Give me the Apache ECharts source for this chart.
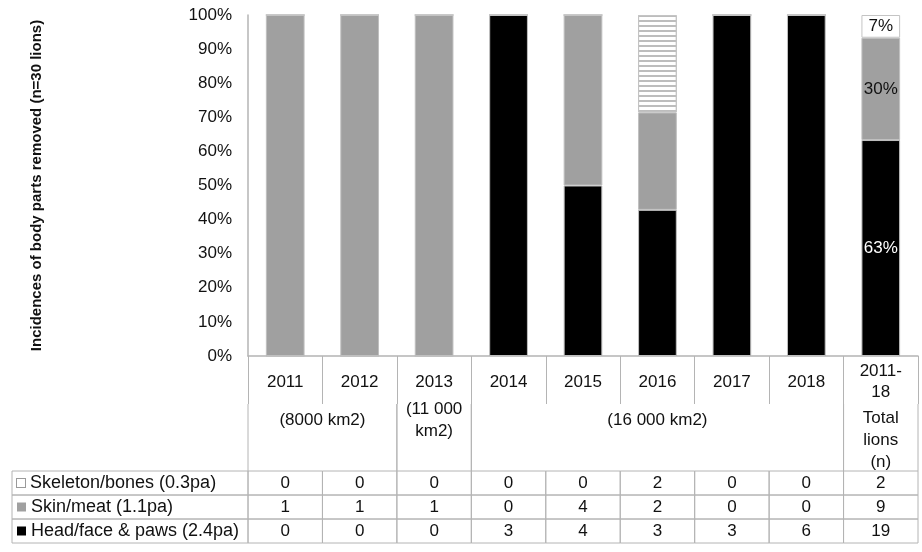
<!DOCTYPE html>
<html><head><meta charset="utf-8">
<script src="https://cdn.jsdelivr.net/npm/echarts@6/dist/echarts.min.js"></script>
<style>html,body{margin:0;padding:0;background:#fff}#c{width:922px;height:552px}</style>
</head><body><div id="c"></div>
<script>
// ---- data ----
const categories = ['2011', '2012', '2013', '2014', '2015', '2016', '2017', '2018', '2011-\n18'];
const rowNames = ['Skeleton/bones (0.3pa)', 'Skin/meat (1.1pa)', 'Head/face & paws (2.4pa)'];
const skeleton = [0, 0, 0, 0, 0, 2, 0, 0, 2];
const skin     = [1, 1, 1, 0, 4, 2, 0, 0, 9];
const head     = [0, 0, 0, 3, 4, 3, 3, 6, 19];
const areaLabels = ['(8000 km2)', '(11 000\nkm2)', '(16 000 km2)', 'Total\nlions\n(n)'];
const areaFrom   = [0, 2, 3, 8];
const areaTo     = [1, 2, 7, 8];
const yTickStep = 10;
const yMax = 100;
const yTitle = 'Incidences of body parts removed (n=30 lions)';

// ---- derived ----
const totals = categories.map((_, i) => skeleton[i] + skin[i] + head[i]);
const pct = arr => arr.map((v, i) => v / totals[i] * 100);
const last = categories.length - 1;
const rowCounts = [skeleton, skin, head];

const FONT = 'Liberation Sans, Arial, sans-serif';
const LINE = '#b4b4b4';
const GRID_L = 248, GRID_R = 4;
const TABLE_L = 12;

const labelFmt = p => p.dataIndex === last ? Math.round(p.value) + '%' : '';
const stripe = { symbol: 'rect', symbolSize: 1, color: '#bdbdbd', dashArrayX: [1, 0], dashArrayY: [2, 3], rotation: 0 };

const cellData = [];
rowCounts.forEach((arr, r) => arr.forEach((v, c) => cellData.push([c, r, v])));

const option = {
  animation: false,
  textStyle: { fontFamily: FONT },
  grid: [
    { left: GRID_L, right: GRID_R, top: 15, height: 341 },
    { left: GRID_L, right: GRID_R, top: 404, height: 67 },
    { left: GRID_L, right: GRID_R, top: 471, height: 72 }
  ],
  xAxis: [
    { type: 'category', gridIndex: 0, data: categories,
      axisLine: { lineStyle: { color: LINE, width: 1.5 } },
      axisTick: { show: true, interval: 0, length: 48, lineStyle: { color: LINE } },
      axisLabel: { interval: 0, fontSize: 17, color: '#111', margin: 26, verticalAlign: 'middle', lineHeight: 21, fontFamily: FONT } },
    { type: 'category', gridIndex: 1, data: categories, show: false },
    { type: 'category', gridIndex: 2, data: categories, show: false }
  ],
  yAxis: [
    { type: 'value', gridIndex: 0, min: 0, max: yMax, interval: yTickStep,
      name: yTitle, nameLocation: 'middle', nameGap: 204,
      nameTextStyle: { fontSize: 15, fontWeight: 'bold', color: '#111', fontFamily: FONT },
      axisLine: { show: true, lineStyle: { color: LINE, width: 1.5 } },
      axisTick: { show: false }, splitLine: { show: false },
      axisLabel: { formatter: '{value}%', fontSize: 17, color: '#111', margin: 16, fontFamily: FONT } },
    { type: 'category', gridIndex: 1, data: ['area'], show: false },
    { type: 'category', gridIndex: 2, data: rowNames, inverse: true,
      axisLine: { show: false }, axisTick: { show: false }, splitLine: { show: false },
      axisLabel: { align: 'left', margin: GRID_L - TABLE_L - 5, fontSize: 18, color: '#111', fontFamily: FONT,
        formatter: (v, i) => '{m' + i + '|}{t|' + v + '}',
        rich: {
          m0: { width: 8, height: 8, backgroundColor: '#fff', borderColor: '#9a9a9a', borderWidth: 1 },
          m1: { width: 9, height: 9, backgroundColor: '#a0a0a0' },
          m2: { width: 9, height: 9, backgroundColor: '#000' },
          t: { fontSize: 18, color: '#111', padding: [0, 0, 0, 5], fontFamily: FONT }
        } } }
  ],
  series: [
    { name: rowNames[2], type: 'bar', stack: 'a', barWidth: '52%', data: pct(head),
      itemStyle: { color: '#000', borderColor: '#bfbfbf', borderWidth: 1 },
      label: { show: true, formatter: labelFmt, color: '#fff', fontSize: 17, fontFamily: FONT } },
    { name: rowNames[1], type: 'bar', stack: 'a', barWidth: '52%', data: pct(skin),
      itemStyle: { color: '#a0a0a0', borderColor: '#bfbfbf', borderWidth: 1 },
      label: { show: true, formatter: labelFmt, color: '#111', fontSize: 17, fontFamily: FONT } },
    { name: rowNames[0], type: 'bar', stack: 'a', barWidth: '52%',
      data: pct(skeleton).map((v, i) => i === last ? v : { value: v, itemStyle: { decal: stripe } }),
      itemStyle: { color: '#fff', borderColor: '#c4c4c4', borderWidth: 1 },
      label: { show: true, formatter: labelFmt, color: '#111', fontSize: 17, fontFamily: FONT } },
    { type: 'custom', xAxisIndex: 1, yAxisIndex: 1, silent: true,
      data: areaLabels.map((_, k) => [areaFrom[k], areaTo[k]]),
      renderItem: (params, api) => {
        const k = params.dataIndex;
        const cs = params.coordSys;
        const w = api.size([1, 0])[0];
        const x0 = api.coord([api.value(0), 0])[0] - w / 2;
        const x1 = api.coord([api.value(1), 0])[0] + w / 2;
        const y0 = cs.y, y1 = cs.y + cs.height;
        const isLast = api.value(1) === last;
        return { type: 'group', children: [
          { type: 'line', shape: { x1: x0, y1: y0, x2: x0, y2: y1 }, style: { stroke: LINE, lineWidth: 1 } },
          { type: 'line', shape: { x1: x1, y1: y0, x2: x1, y2: y1 }, style: { stroke: LINE, lineWidth: 1 } },
          { type: 'text', style: { text: areaLabels[k], x: (x0 + x1) / 2, y: isLast ? y0 + 3 : y0 + 16,
            align: 'center', verticalAlign: isLast ? 'top' : 'middle', fontSize: 17, lineHeight: 22,
            fill: '#111', fontFamily: FONT } }
        ] };
      } },
    { type: 'custom', xAxisIndex: 2, yAxisIndex: 2, silent: true, data: cellData,
      renderItem: (params, api) => {
        const c = api.value(0), r = api.value(1);
        const p = api.coord([c, r]);
        const s = api.size([1, 1]);
        const cs = params.coordSys;
        const x = p[0] - s[0] / 2, y = p[1] - s[1] / 2;
        const children = [
          { type: 'rect', shape: { x: x, y: y, width: s[0], height: s[1] }, style: { fill: 'none', stroke: LINE, lineWidth: 1 } },
          { type: 'text', style: { text: String(api.value(2)), x: p[0], y: p[1], align: 'center', verticalAlign: 'middle',
            fontSize: 17, fill: '#111', fontFamily: FONT } }
        ];
        if (c === 0) {
          children.push({ type: 'rect', shape: { x: TABLE_L, y: y, width: cs.x - TABLE_L, height: s[1] },
            style: { fill: 'none', stroke: LINE, lineWidth: 1 } });
        }
        return { type: 'group', children };
      } }
  ]
};

const chart = echarts.init(document.getElementById('c'), null, { renderer: 'canvas' });
chart.setOption(option);
</script>
</body></html>
